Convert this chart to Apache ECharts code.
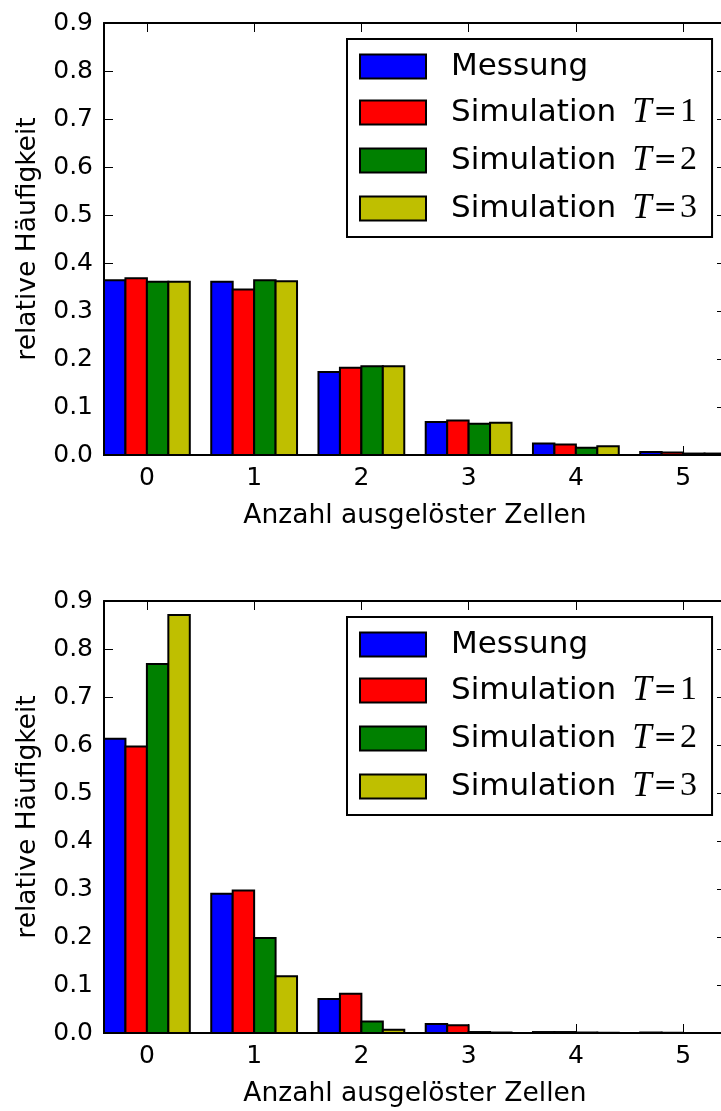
<!DOCTYPE html>
<html>
<head>
<meta charset="utf-8">
<script src="https://cdn.jsdelivr.net/npm/echarts@6/dist/echarts.min.js"></script>
<style>
  html, body { margin: 0; padding: 0; background: #fff; overflow: hidden; }
  #chart { width: 740px; height: 1111px; }
</style>
</head>
<body>
<div id="chart"></div>
<script>
// Anzahl ausgelöster Zellen (x positions 0..5)
const categories = ['0', '1', '2', '3', '4', '5'];
const yTickLabels = ['0.0', '0.1', '0.2', '0.3', '0.4', '0.5', '0.6', '0.7', '0.8', '0.9'];
const seriesNames = ['Messung', 'Simulation T=1', 'Simulation T=2', 'Simulation T=3'];
const seriesColors = ['#0000ff', '#ff0000', '#008000', '#bfbf00'];

// upper panel: relative frequencies
const topMessung = [0.364, 0.361, 0.173, 0.069, 0.024, 0.006];
const topSimT1   = [0.368, 0.345, 0.182, 0.072, 0.022, 0.005];
const topSimT2   = [0.361, 0.364, 0.185, 0.065, 0.015, 0.003];
const topSimT3   = [0.361, 0.362, 0.185, 0.067, 0.018, 0.003];

// lower panel: relative frequencies
const botMessung = [0.613, 0.290, 0.071, 0.019, 0.002, 0.001];
const botSimT1   = [0.597, 0.297, 0.082, 0.016, 0.002, 0.0005];
const botSimT2   = [0.769, 0.198, 0.024, 0.002, 0.001, 0.0];
const botSimT3   = [0.871, 0.118, 0.007, 0.001, 0.0005, 0.0];

const panels = [
  { top: 23, values: [topMessung, topSimT1, topSimT2, topSimT3] },
  { top: 601, values: [botMessung, botSimT1, botSimT2, botSimT3] }
];

const BAR_W = 0.2;      // bar width in x units
const GROUP_START = -0.4;

const tickFont = { fontFamily: 'DejaVu Sans', fontSize: 25, color: '#000' };
const nameFont = { fontFamily: 'DejaVu Sans', fontSize: 26.5, color: '#000' };
const spine = { color: '#000', width: 2 };
const tick = { color: '#000', width: 1 };

const grids = [], xAxes = [], yAxes = [], series = [];

panels.forEach((p, gi) => {
  grids.push({ left: 104, top: p.top, width: 622, height: 432, show: false });
  const catVals = categories.map(Number);
  // bottom x axis
  xAxes.push({
    gridIndex: gi, type: 'value', min: -0.4, max: 5.4, position: 'bottom',
    name: 'Anzahl ausgelöster Zellen', nameLocation: 'middle', nameGap: 48,
    nameTextStyle: nameFont,
    axisLine: { show: true, onZero: false, lineStyle: spine },
    axisTick: { show: true, inside: true, length: 9, customValues: catVals, lineStyle: tick },
    axisLabel: { show: true, margin: 11, customValues: catVals, formatter: v => categories[Math.round(v)], ...tickFont },
    splitLine: { show: false }
  });
  // top x axis (spine and ticks)
  xAxes.push({
    gridIndex: gi, type: 'value', min: -0.4, max: 5.4, position: 'top',
    axisLine: { show: true, onZero: false, lineStyle: spine },
    axisTick: { show: true, inside: true, length: 9, customValues: catVals, lineStyle: tick },
    axisLabel: { show: false },
    splitLine: { show: false }
  });
  // left y axis
  yAxes.push({
    gridIndex: gi, type: 'value', min: 0, max: 0.9, interval: 0.1, position: 'left',
    name: 'relative Häufigkeit', nameLocation: 'middle', nameGap: 62, nameRotate: 90,
    nameTextStyle: nameFont,
    axisLine: { show: true, onZero: false, lineStyle: spine },
    axisTick: { show: true, inside: true, length: 9, lineStyle: tick },
    axisLabel: { show: true, margin: 11, formatter: (v) => yTickLabels[Math.round(v * 10)], ...tickFont },
    splitLine: { show: false }
  });
  // right y axis (ticks only; its spine lies past the page edge)
  yAxes.push({
    gridIndex: gi, type: 'value', min: 0, max: 0.9, interval: 0.1, position: 'right',
    axisLine: { show: false, onZero: false },
    axisTick: { show: true, inside: true, length: 9, lineStyle: tick },
    axisLabel: { show: false },
    splitLine: { show: false }
  });

  p.values.forEach((vals, si) => {
    series.push({
      type: 'custom',
      name: seriesNames[si],
      xAxisIndex: gi * 2, yAxisIndex: gi * 2,
      color: seriesColors[si],
      data: vals.map((v, i) => [i, v]),
      z: 2,
      renderItem: (params, api) => {
        const x = api.value(0);
        const v = api.value(1);
        const x0 = x + GROUP_START + si * BAR_W;
        const p0 = api.coord([x0, v]);
        const p1 = api.coord([x0 + BAR_W, 0]);
        return {
          type: 'rect',
          shape: { x: p0[0], y: p0[1], width: p1[0] - p0[0], height: p1[1] - p0[1] },
          style: { fill: seriesColors[si], stroke: '#000', lineWidth: 2 }
        };
      }
    });
  });
});

const legendRich = {
  s: { width: 20 },
  a: { fontFamily: 'DejaVu Sans', fontSize: 31, color: '#000', lineHeight: 36 },
  m: { fontFamily: 'Liberation Serif', fontStyle: 'italic', fontSize: 35, color: '#000', lineHeight: 36, padding: [0, 2, 0, 16] },
  e: { fontFamily: 'DejaVu Serif', fontSize: 28, color: '#000', lineHeight: 36, padding: [0, 3, 0, 0] },
  n: { fontFamily: 'Liberation Serif', fontSize: 34, color: '#000', lineHeight: 36 }
};
function legendFormatter(name) {
  const m = name.match(/^Simulation T=(\d)$/);
  if (m) return '{s| }{a|Simulation}{m|T}{e|=}{n|' + m[1] + '}';
  return '{s| }{a|' + name + '}';
}

const legends = panels.map((p) => ({
  orient: 'vertical',
  left: 347, top: p.top + 16,
  padding: [12, 15, 11, 12],
  itemWidth: 66, itemHeight: 24, itemGap: 13,
  backgroundColor: '#fff', borderColor: '#000', borderWidth: 2, borderRadius: 0,
  selectedMode: false,
  data: seriesNames.map((n, i) => ({
    name: n, icon: 'rect',
    itemStyle: { color: seriesColors[i], borderColor: '#000', borderWidth: 2 }
  })),
  formatter: legendFormatter,
  textStyle: { rich: legendRich }
}));

const chart = echarts.init(document.getElementById('chart'), null, { renderer: 'canvas' });
chart.setOption({
  animation: false,
  backgroundColor: '#fff',
  grid: grids,
  xAxis: xAxes,
  yAxis: yAxes,
  legend: legends,
  series: series
});
</script>
</body>
</html>
